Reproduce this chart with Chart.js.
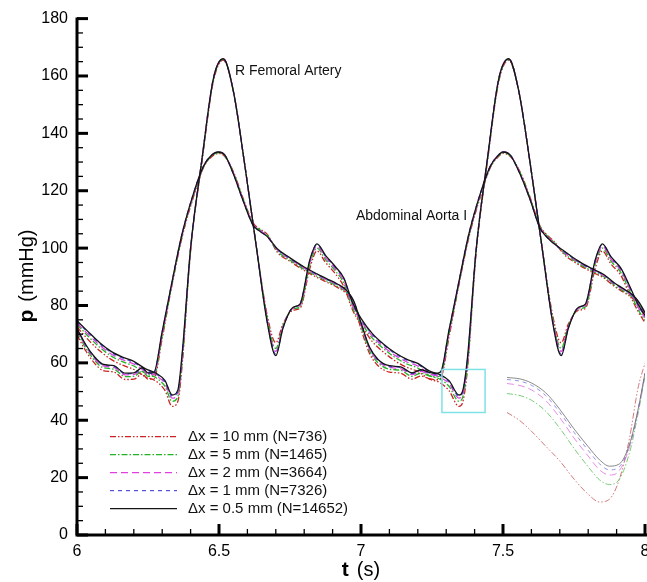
<!DOCTYPE html>
<html>
<head>
<meta charset="utf-8">
<script src="https://cdn.jsdelivr.net/npm/chart.js@4.4.0/dist/chart.umd.min.js"></script>
<style>
  html, body { margin: 0; padding: 0; background: #fff; }
  canvas { display: block; }
</style>
</head>
<body>
<canvas id="pressureChart" width="647" height="582"></canvas>
<script>
// Pressure waveforms, two heart beats (t = 6..8 s)

// R Femoral Artery
var tFem = [6.00, 6.04, 6.08, 6.12, 6.16, 6.20, 6.24, 6.28, 6.31, 6.335, 6.355, 6.37, 6.40, 6.44, 6.48, 6.515, 6.55, 6.59, 6.63, 6.67, 6.70, 6.725, 6.76, 6.785, 6.82, 6.845, 6.875, 6.91, 6.94, 6.97,
            7.00, 7.04, 7.08, 7.12, 7.16, 7.20, 7.24, 7.28, 7.31, 7.345, 7.36, 7.375, 7.405, 7.445, 7.485, 7.52, 7.555, 7.595, 7.635, 7.675, 7.705, 7.73, 7.765, 7.79, 7.825, 7.85, 7.88, 7.915, 7.945, 7.975, 8.00];
var femBlack = [74.7, 70.8, 67.0, 64.0, 62.0, 60.5, 58.0, 56.3, 53.8, 48.8, 50.5, 63.0, 100, 131, 159, 166, 155, 129.5, 101.5, 74.0, 62.5, 72.0, 79.3, 80.5, 96.0, 101.5, 97.5, 93.5, 89.5, 81.0,
                75.5, 70.2, 66.5, 63.5, 61.3, 59.8, 57.2, 55.8, 53.8, 48.8, 51.0, 62.0, 99, 131, 159, 166, 155, 130, 102, 74.0, 62.5, 72.0, 79.3, 80.5, 96.0, 101.5, 97.0, 93.0, 87.0, 80.5, 76.5];
var femBlue = [74.4, 70.5, 66.7, 63.7, 61.7, 60.2, 57.7, 56.0, 53.4, 48.4, 50.0, 62.0, 100, 131, 159, 166, 155, 129.5, 101.5, 74.3, 63.0, 72.2, 79.3, 80.5, 95.7, 101.3, 97.2, 93.2, 89.2, 80.7,
               75.2, 69.9, 66.2, 63.2, 61.0, 59.5, 56.9, 55.5, 53.4, 48.4, 50.5, 61.0, 99, 131, 159, 166, 155, 130, 102, 74.3, 63.0, 72.2, 79.3, 80.5, 95.7, 101.3, 96.7, 92.7, 86.7, 80.2, 76.2];
var femMagenta = [73.9, 69.9, 66.1, 63.1, 61.1, 59.6, 57.1, 55.4, 52.8, 47.7, 49.3, 61.0, 100, 131, 159, 166, 155, 129.5, 101.5, 74.8, 64.0, 72.5, 79.0, 80.0, 95.0, 100.7, 96.7, 92.7, 88.5, 80.0,
                  74.7, 69.3, 65.6, 62.6, 60.4, 58.9, 56.3, 54.9, 52.8, 47.7, 49.8, 60.0, 99, 131, 159, 166, 155, 130, 102, 74.8, 64.0, 72.5, 79.0, 80.0, 95.0, 100.7, 96.2, 92.2, 86.0, 79.5, 75.7];
var femGreen = [73.4, 69.2, 65.4, 62.4, 60.4, 58.9, 56.4, 54.7, 51.8, 46.6, 48.2, 60.0, 99.5, 130.5, 158.5, 165.8, 155, 129.5, 101.5, 75.5, 65.0, 72.8, 78.8, 79.5, 94.5, 100.0, 96.0, 92.0, 87.7, 79.2,
                74.2, 68.6, 64.9, 61.9, 59.7, 58.2, 55.6, 54.2, 51.8, 46.6, 48.7, 59.0, 98.5, 130.5, 158.5, 165.8, 155, 130, 102, 75.5, 65.0, 72.8, 78.8, 79.5, 94.5, 100.0, 95.5, 91.5, 85.2, 78.7, 74.8];
var femRed = [72.5, 68.0, 64.2, 61.2, 59.2, 57.7, 55.2, 53.5, 50.3, 44.8, 46.5, 59.0, 99, 130, 158, 165.5, 155, 129.5, 101.5, 76.5, 67.0, 73.5, 78.3, 79.0, 93.0, 99.0, 95.0, 91.0, 86.5, 78.5,
              73.3, 67.4, 63.7, 60.7, 58.5, 57.0, 54.4, 53.0, 50.3, 44.8, 47.0, 58.0, 98, 130, 158, 165.5, 155, 130, 102, 76.5, 67.0, 73.5, 78.3, 79.0, 93.0, 99.0, 94.5, 90.5, 84.0, 78.0, 74.0];

// Abdominal Aorta I
var tAor = [6.00, 6.03, 6.06, 6.09, 6.13, 6.17, 6.20, 6.23, 6.25, 6.27, 6.30, 6.33, 6.37, 6.41, 6.445, 6.47, 6.497, 6.52, 6.55, 6.585, 6.62, 6.645, 6.67, 6.705, 6.75, 6.80, 6.845, 6.88, 6.915, 6.95, 6.975,
            7.00, 7.03, 7.06, 7.10, 7.14, 7.18, 7.21, 7.24, 7.26, 7.28, 7.31, 7.34, 7.38, 7.42, 7.455, 7.48, 7.50, 7.525, 7.56, 7.595, 7.63, 7.655, 7.68, 7.715, 7.76, 7.81, 7.855, 7.89, 7.925, 7.955, 7.98, 8.00];
var aorBlack = [72.0, 66.5, 62.3, 59.6, 59.0, 56.4, 56.5, 58.3, 56.5, 56.6, 71.0, 86.0, 105, 119, 128.5, 132, 133.5, 132.5, 126, 116.5, 108, 105.8, 104, 99.8, 96.6, 93.4, 91.0, 89.3, 87.6, 85.2, 81.5,
                74.0, 65.5, 61.2, 59.0, 58.6, 56.5, 57.6, 56.7, 56.3, 56.8, 71.5, 86.0, 105, 119, 128.5, 132, 133.5, 132.5, 125.8, 117, 107, 103.8, 101.5, 99.0, 95.8, 93.0, 90.8, 88.0, 85.8, 83.8, 81.0, 77.5];
var aorBlue = [71.8, 66.3, 62.1, 59.4, 58.8, 56.2, 56.3, 58.1, 56.3, 56.4, 70.7, 86.0, 105, 119, 128.5, 132, 133.5, 132.5, 126, 116.5, 108, 105.8, 104, 99.6, 96.4, 93.2, 90.8, 89.1, 87.4, 85.0, 81.3,
               73.8, 65.3, 61.0, 58.8, 58.4, 56.3, 57.4, 56.5, 56.1, 56.6, 71.2, 86.0, 105, 119, 128.5, 132, 133.5, 132.5, 125.8, 117, 107, 103.8, 101.5, 98.8, 95.6, 92.8, 90.6, 87.8, 85.6, 83.6, 80.8, 77.3];
var aorMagenta = [71.4, 65.9, 61.7, 59.0, 58.4, 55.8, 55.9, 57.7, 55.9, 56.0, 70.0, 85.5, 104.5, 118.5, 128.5, 132, 133.5, 132.5, 126.3, 116.8, 108.3, 106.1, 104.3, 99.4, 96.2, 93.0, 90.6, 88.9, 87.2, 84.8, 81.1,
                  73.4, 64.9, 60.6, 58.4, 58.0, 55.9, 57.0, 56.1, 55.7, 56.2, 70.5, 85.5, 104.5, 118.5, 128.5, 132, 133.5, 132.5, 126.1, 117.3, 107.3, 104.1, 101.8, 98.6, 95.4, 92.6, 90.4, 87.6, 85.4, 83.4, 80.6, 77.0];
var aorGreen = [70.8, 65.3, 61.1, 58.4, 57.8, 55.2, 55.3, 57.1, 55.3, 55.4, 69.5, 85.2, 104.2, 118.2, 128.2, 131.7, 133.2, 132.2, 126.5, 117.0, 108.5, 106.3, 104.5, 99.0, 95.8, 92.6, 90.2, 88.5, 86.8, 84.4, 80.7,
                72.8, 64.3, 60.0, 57.8, 57.4, 55.3, 56.4, 55.5, 55.1, 55.6, 70.0, 85.2, 104.2, 118.2, 128.2, 131.7, 133.2, 132.2, 126.3, 117.5, 107.5, 104.3, 102.0, 98.2, 95.0, 92.2, 90.0, 87.2, 85.0, 83.0, 80.2, 76.5];
var aorRed = [69.8, 64.3, 60.1, 57.4, 56.8, 54.2, 54.3, 56.1, 54.3, 54.4, 68.5, 84.8, 103.8, 117.8, 128.0, 131.5, 133.0, 132.0, 126.8, 117.3, 108.8, 106.6, 104.8, 98.6, 95.4, 92.2, 89.8, 88.1, 86.4, 84.0, 80.3,
              71.8, 63.3, 59.0, 56.8, 56.4, 54.3, 55.4, 54.5, 54.1, 54.6, 69.0, 84.8, 103.8, 117.8, 128.0, 131.5, 133.0, 132.0, 126.6, 117.8, 107.8, 104.6, 102.3, 97.8, 94.6, 91.8, 89.6, 86.8, 84.6, 82.6, 79.8, 76.0];

// Magnified copy of the femoral minimum (cyan box), as drawn in the lower right
var tInset = [7.514, 7.56, 7.60, 7.65, 7.70, 7.75, 7.80, 7.84, 7.875, 7.91, 7.945, 7.975, 8.00];
var insetBlack = [54.9, 54.4, 53.0, 49.6, 43.8, 37.0, 30.8, 26.2, 24.0, 24.8, 31.5, 43.5, 56.5];
var insetBlue = [54.2, 53.6, 52.2, 48.6, 42.7, 35.8, 29.5, 24.8, 22.7, 23.8, 31.0, 43.2, 56.3];
var insetMagenta = [52.8, 52.1, 50.6, 46.9, 40.9, 33.8, 27.5, 22.7, 20.9, 22.5, 30.5, 43.0, 56.0];
var insetGreen = [49.3, 48.6, 47.0, 43.2, 37.2, 30.2, 23.8, 19.2, 17.6, 19.5, 28.5, 42.0, 55.5];
var insetRed = [42.7, 39.8, 36.2, 31.0, 25.8, 19.5, 14.2, 11.5, 12.5, 19.5, 33.5, 51.0, 60.0];

// cyan box round the zoomed region (t range, p range)
var zoomBoxT = [7.285, 7.437];
var zoomBoxP = [42.7, 57.7];

var legendLabels = ["\u0394x = 10 mm (N=736)", "\u0394x = 5 mm (N=1465)", "\u0394x = 2 mm (N=3664)", "\u0394x = 1 mm (N=7326)", "\u0394x = 0.5 mm (N=14652)"];
var xTicks = [6, 6.5, 7, 7.5, 8];
var yTicks = [0, 20, 40, 60, 80, 100, 120, 140, 160, 180];

// styles per discretisation: red, green, magenta, blue, black
var lineStyles = [
	{color: '#cc2222', faint: 'rgba(200,90,90,0.8)', dash: [6, 2, 1.5, 2, 1.5, 2], order: 5},
	{color: '#22b422', faint: 'rgba(90,190,90,0.8)', dash: [6, 2, 1.5, 2], order: 4},
	{color: '#e040e0', faint: 'rgba(225,110,225,0.8)', dash: [7, 4], order: 3},
	{color: '#5050dd', faint: 'rgba(120,120,225,0.8)', dash: [4, 4], order: 2},
	{color: '#151515', faint: 'rgba(110,110,110,0.8)', dash: [], order: 1}
];

var FONT = '"Liberation Sans", Arial, Helvetica, sans-serif';

function pts(t, v) {
	return t.map(function(x, i) { return {x: x, y: v[i]}; });
}

var femSeries = [femRed, femGreen, femMagenta, femBlue, femBlack];
var aorSeries = [aorRed, aorGreen, aorMagenta, aorBlue, aorBlack];
var insetSeries = [insetRed, insetGreen, insetMagenta, insetBlue, insetBlack];

var datasets = [];
lineStyles.forEach(function(s, i) {
	datasets.push({label: legendLabels[i] + ' fem', data: pts(tFem, femSeries[i]), borderColor: s.color, borderDash: s.dash, borderWidth: 1.3, order: s.order});
	datasets.push({label: legendLabels[i] + ' aorta', data: pts(tAor, aorSeries[i]), borderColor: s.color, borderDash: s.dash, borderWidth: 1.3, order: s.order});
	datasets.push({label: legendLabels[i] + ' inset', data: pts(tInset, insetSeries[i]), borderColor: s.faint, borderDash: s.dash, borderWidth: 1, order: s.order + 10});
});

/** Draws the inward ticks, axis lines, labels, legend and the zoom box */
var decor = {
	id: 'decor',
	afterDatasetsDraw: function(chart) {
		var ctx = chart.ctx;
		var xs = chart.scales.x, ys = chart.scales.y;
		var area = chart.chartArea;
		ctx.save();

		// zoom box
		var bx0 = xs.getPixelForValue(zoomBoxT[0]), bx1 = xs.getPixelForValue(zoomBoxT[1]);
		var by0 = ys.getPixelForValue(zoomBoxP[1]), by1 = ys.getPixelForValue(zoomBoxP[0]);
		ctx.strokeStyle = '#7fe2e6';
		ctx.lineWidth = 1.5;
		ctx.strokeRect(bx0, by0, bx1 - bx0, by1 - by0);

		// axes
		ctx.strokeStyle = '#000';
		ctx.lineWidth = 3;
		ctx.beginPath();
		ctx.moveTo(area.left, ys.getPixelForValue(180) - 1);
		ctx.lineTo(area.left, area.bottom);
		ctx.lineTo(chart.width, area.bottom);
		ctx.stroke();

		var v, p, major;
		for (v = 0; v <= 180; v += 5) {
			p = ys.getPixelForValue(v);
			major = v % 20 === 0;
			ctx.lineWidth = major ? 3 : 1.3;
			ctx.beginPath();
			ctx.moveTo(area.left, p);
			ctx.lineTo(area.left + (major ? 11 : 6), p);
			ctx.stroke();
		}
		for (var i = 0; i <= 20; i++) {
			p = xs.getPixelForValue(6 + i * 0.1);
			major = i % 5 === 0;
			ctx.lineWidth = major ? 3 : 1.3;
			ctx.beginPath();
			ctx.moveTo(p, area.bottom);
			ctx.lineTo(p, area.bottom - (major ? 11 : 6));
			ctx.stroke();
		}

		// curve labels
		ctx.fillStyle = '#111';
		ctx.font = '14px ' + FONT;
		ctx.textBaseline = 'middle';
		ctx.textAlign = 'left';
		ctx.fillText('R Femoral Artery', xs.getPixelForValue(6.556), ys.getPixelForValue(161.6));
		ctx.fillText('Abdominal Aorta I', xs.getPixelForValue(6.982), ys.getPixelForValue(111.2));

		// legend
		var lx = area.left + 33, ly = area.top + 418;
		legendLabels.forEach(function(lab, k) {
			var y = ly + k * 18;
			ctx.strokeStyle = lineStyles[k].color;
			ctx.lineWidth = 1.2;
			ctx.setLineDash(lineStyles[k].dash);
			ctx.beginPath();
			ctx.moveTo(lx, y);
			ctx.lineTo(lx + 67, y);
			ctx.stroke();
			ctx.setLineDash([]);
			ctx.fillStyle = '#111';
			ctx.font = '15px ' + FONT;
			ctx.fillText(lab, lx + 78, y);
		});

		// axis titles
		ctx.fillStyle = '#000';
		ctx.font = 'bold 21px ' + FONT;
		var wt = ctx.measureText('t').width;
		ctx.font = '20px ' + FONT;
		var ws = ctx.measureText('(s)').width;
		var cx = xs.getPixelForValue(7) - (wt + 8 + ws) / 2;
		ctx.textAlign = 'left';
		ctx.textBaseline = 'alphabetic';
		ctx.font = 'bold 21px ' + FONT;
		ctx.fillText('t', cx, 576);
		ctx.font = '20px ' + FONT;
		ctx.fillText('(s)', cx + wt + 8, 576);

		ctx.translate(33, 276);
		ctx.rotate(-Math.PI / 2);
		ctx.font = 'bold 21px ' + FONT;
		var wp = ctx.measureText('p').width;
		ctx.font = '20px ' + FONT;
		var wm = ctx.measureText('(mmHg)').width;
		var sx = -(wp + 8 + wm) / 2;
		ctx.font = 'bold 21px ' + FONT;
		ctx.fillText('p', sx, 0);
		ctx.font = '20px ' + FONT;
		ctx.fillText('(mmHg)', sx + wp + 8, 0);

		ctx.restore();
	}
};

var ctx = document.getElementById('pressureChart').getContext('2d');
var chart = new Chart(ctx, {
	type: 'line',
	data: {datasets: datasets},
	options: {
		responsive: false,
		animation: false,
		devicePixelRatio: 1,
		layout: {padding: {top: 18, right: 2, left: 0, bottom: 0}},
		elements: {
			point: {radius: 0},
			line: {cubicInterpolationMode: 'monotone', fill: false}
		},
		plugins: {legend: {display: false}, tooltip: {enabled: false}},
		scales: {
			x: {
				type: 'linear', min: 6, max: 8,
				grid: {display: false, drawTicks: false},
				border: {display: false},
				afterBuildTicks: function(s) { s.ticks = xTicks.map(function(v) { return {value: v}; }); },
				afterFit: function(s) { s.height = 47; s.paddingRight = 0; s.paddingLeft = 0; },
				ticks: {
					autoSkip: false, maxRotation: 0, padding: 7, color: '#000',
					font: {size: 16, family: FONT},
					callback: function(v) { return String(v); }
				}
			},
			y: {
				min: 0, max: 180,
				grid: {display: false, drawTicks: false},
				border: {display: false},
				afterBuildTicks: function(s) { s.ticks = yTicks.map(function(v) { return {value: v}; }); },
				afterFit: function(s) { s.width = 77; },
				ticks: {
					autoSkip: false, padding: 9, color: '#000',
					font: {size: 16, family: FONT}
				}
			}
		}
	},
	plugins: [decor]
});
</script>
</body>
</html>
